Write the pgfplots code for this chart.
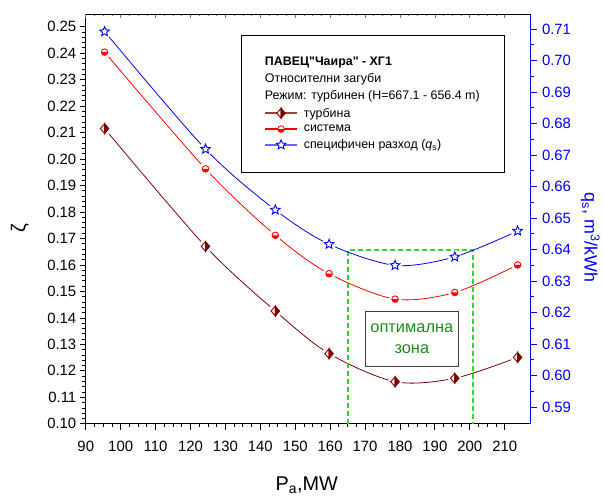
\documentclass[border=0pt]{standalone}
\usepackage{fontspec}
\setmainfont{Liberation Sans}
\newfontfamily\nomap{Liberation Sans}[Ligatures=TeXOff]
\usepackage{pgfplots}
\usepackage{pgfplotstable}
\pgfplotsset{compat=1.18}
\usetikzlibrary{plotmarks}

\definecolor{turb}{HTML}{800000}
\definecolor{syst}{HTML}{FF0000}
\definecolor{spec}{HTML}{0000FF}
\definecolor{zone}{HTML}{22E022}
\definecolor{zonetxt}{HTML}{1E8C1E}

% half filled marks (Origin style)
\pgfdeclareplotmark{hdiamond}{%
  \begin{pgfscope}\pgfsetfillcolor{white}%
  \pgfpathmoveto{\pgfqpoint{0pt}{1.15\pgfplotmarksize}}%
  \pgfpathlineto{\pgfqpoint{-\pgfplotmarksize}{0pt}}%
  \pgfpathlineto{\pgfqpoint{0pt}{-1.15\pgfplotmarksize}}%
  \pgfpathclose\pgfusepathqfillstroke\end{pgfscope}%
  \pgfpathmoveto{\pgfqpoint{0pt}{1.15\pgfplotmarksize}}%
  \pgfpathlineto{\pgfqpoint{\pgfplotmarksize}{0pt}}%
  \pgfpathlineto{\pgfqpoint{0pt}{-1.15\pgfplotmarksize}}%
  \pgfpathclose\pgfusepathqfillstroke}
\pgfdeclareplotmark{hcircle}{%
  \begin{pgfscope}\pgfsetfillcolor{white}%
  \pgfpathcircle{\pgfpointorigin}{\pgfplotmarksize}\pgfusepathqfill\end{pgfscope}%
  \pgfpathmoveto{\pgfqpoint{-\pgfplotmarksize}{0pt}}%
  \pgfpatharc{180}{360}{\pgfplotmarksize}%
  \pgfpathclose\pgfusepathqfill
  \pgfpathcircle{\pgfpointorigin}{\pgfplotmarksize}\pgfusepathqstroke}
\pgfdeclareplotmark{pstar}{%
  \pgfpathmoveto{\pgfpointpolar{90}{\pgfplotmarksize}}%
  \pgfpathlineto{\pgfpointpolar{126}{0.45\pgfplotmarksize}}%
  \pgfpathlineto{\pgfpointpolar{162}{\pgfplotmarksize}}%
  \pgfpathlineto{\pgfpointpolar{198}{0.45\pgfplotmarksize}}%
  \pgfpathlineto{\pgfpointpolar{234}{\pgfplotmarksize}}%
  \pgfpathlineto{\pgfpointpolar{270}{0.45\pgfplotmarksize}}%
  \pgfpathlineto{\pgfpointpolar{306}{\pgfplotmarksize}}%
  \pgfpathlineto{\pgfpointpolar{342}{0.45\pgfplotmarksize}}%
  \pgfpathlineto{\pgfpointpolar{18}{\pgfplotmarksize}}%
  \pgfpathlineto{\pgfpointpolar{54}{0.45\pgfplotmarksize}}%
  \pgfpathclose\pgfusepathqfillstroke}

\pgfplotstableread{
P     zt     zs     qs
95.4  0.2115 0.2404 0.7092
124.3 0.1670 0.1963 0.6719
144.3 0.1426 0.1712 0.6526
159.7 0.1265 0.1567 0.6417
178.6 0.1159 0.1471 0.6350
195.7 0.1172 0.1496 0.6377
213.7 0.1251 0.1600 0.6459
}\data

\pgfplotsset{
  common/.style={
    scale only axis, width=446bp, height=411bp,
    xmin=90, xmax=217.4,
    tick align=outside,
    major tick length=6bp, minor tick length=3.5bp,
    axis line style={line width=0.8bp},
    every tick/.style={line width=0.8bp},
    ticklabel style={font=\fontsize{15}{18}\selectfont},
    /pgf/number format/assume math mode=true,
    scaled y ticks=false,
    yticklabel style={/pgf/number format/fixed, /pgf/number format/fixed zerofill,
      /pgf/number format/precision=2},
  },
}

\begin{document}
\begin{tikzpicture}
\begin{axis}[common,
  ymin=0.10, ymax=0.2548,
  axis y line*=left,
  xtick={90,100,110,120,130,140,150,160,170,180,190,200,210},
  minor x tick num=3,
  xtick pos=left,
  xticklabel style={yshift=-8bp},
  ytick={0.10,0.11,0.12,0.13,0.14,0.15,0.16,0.17,0.18,0.19,0.20,0.21,0.22,0.23,0.24,0.25},
  minor y tick num=4,
  xlabel={P\textsubscript{a},MW},
  xlabel style={at={(axis description cs:0.497,-0.150)}, anchor=center,
    font=\fontsize{20}{24}\selectfont},
  ylabel={ζ},
  ylabel style={at={(axis description cs:-0.148,0.477)}, anchor=center,
    font=\fontsize{20}{24}\selectfont},
]
% lines
\addplot[turb, line width=0.8bp, smooth, no marks] table[x=P,y=zt] {\data};
\addplot[syst, line width=0.8bp, smooth, no marks] table[x=P,y=zs] {\data};
% gaps round the markers
\addplot[only marks, mark=*, mark size=6.5bp, draw=white, fill=white] table[x=P,y=zt] {\data};
\addplot[only marks, mark=*, mark size=6bp, draw=white, fill=white] table[x=P,y=zs] {\data};
% markers
\addplot[only marks, mark=hdiamond, mark size=4.3bp, mark options={draw=turb, fill=turb, line width=0.9bp}] table[x=P,y=zt] {\data};
\addplot[only marks, mark=hcircle, mark size=3.3bp, mark options={draw=syst, fill=syst, line width=0.9bp}] table[x=P,y=zs] {\data};
% optimal zone
\addplot[zone, line width=1.8bp, dash pattern=on 5bp off 3bp] coordinates {(165.1,0.10) (165.1,0.1655) (201,0.1655) (201,0.10)};
\node[draw=black!75, line width=1.1bp, fill=white, text=zonetxt, align=center,
  minimum width=93bp, minimum height=55bp, inner sep=2bp,
  font=\fontsize{16.5}{21}\selectfont] at (axis cs:183.4,0.1320) {оптимална\\зона};
\end{axis}

\begin{axis}[common,
  ymin=0.5847, ymax=0.7148,
  axis y line*=right,
  axis x line=none,
  ytick={0.59,0.60,0.61,0.62,0.63,0.64,0.65,0.66,0.67,0.68,0.69,0.70,0.71},
  minor y tick num=1,
  y axis line style={spec},
  ytick style={spec},
  minor y tick style={spec},
  yticklabel style={text=spec, xshift=2bp},
  ylabel={q\textsubscript{s}, m\textsuperscript{3}/kWh},
  ylabel style={at={(axis description cs:1.1345,0.455)}, anchor=center, rotate=180,
    text=spec, font=\fontsize{18}{22}\selectfont},
  legend cell align=left,
  legend image code/.code={\draw[mark repeat=2, mark phase=2, #1]
    plot coordinates {(0bp,0bp) (16bp,0bp) (32bp,0bp)};},
  legend style={at={(0.349,0.949)}, anchor=north west, draw=black, line width=1bp,
    font=\fontsize{12.5}{14}\selectfont, inner xsep=23bp, inner ysep=20bp,
    row sep=2.5bp, column sep=4bp},
]
\addlegendimage{empty legend}
\addlegendentry{\hspace*{-39bp}{\nomap\bfseries ПАВЕЦ"Чаира" - ХГ1}}
\addlegendimage{empty legend}
\addlegendentry{\hspace*{-39bp}Относителни загуби}
\addlegendimage{empty legend}
\addlegendentry{\hspace*{-39bp}Режим: турбинен (H=667.1 - 656.4 m)}
\addlegendimage{turb!75, line width=1.5bp, mark=hdiamond, mark size=4.3bp, mark options={draw=turb, fill=turb, line width=0.9bp}}
\addlegendentry{турбина}
\addlegendimage{syst, line width=1.5bp, mark=hcircle, mark size=3.3bp, mark options={draw=syst, fill=syst, line width=0.9bp}}
\addlegendentry{система}
\addlegendimage{spec!60, line width=1.5bp, mark=pstar, mark size=5bp, mark options={draw=spec, fill=white, line width=0.9bp}}
\addlegendentry{специфичен разход (\textit{q}\textsubscript{s})}

\addplot[forget plot, spec, line width=0.8bp, smooth, no marks] table[x=P,y=qs] {\data};
\addplot[forget plot, only marks, mark=*, mark size=6.5bp, draw=white, fill=white] table[x=P,y=qs] {\data};
\addplot[forget plot, only marks, mark=pstar, mark size=5bp, mark options={draw=spec, fill=white, line width=0.9bp}] table[x=P,y=qs] {\data};
\end{axis}

% small inner ticks along the top edge
\begin{axis}[common,
  ymin=0, ymax=1,
  axis x line*=top,
  axis y line=none,
  xtick={90,100,110,120,130,140,150,160,170,180,190,200,210},
  minor x tick num=3,
  xticklabels={},
  tick align=inside,
  major tick length=4bp, minor tick length=2.5bp,
  every tick/.style={black!55, line width=0.7bp},
]
\end{axis}
\path ([shift={(-86bp,-73bp)}]current axis.south west) rectangle ([shift={(71bp,14bp)}]current axis.north east);
\end{tikzpicture}
\end{document}
